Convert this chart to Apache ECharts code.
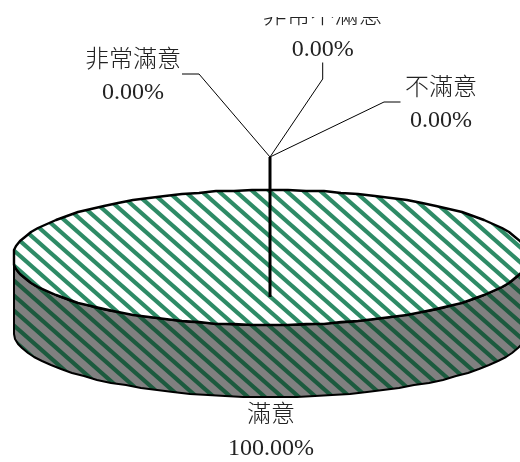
<!DOCTYPE html>
<html><head><meta charset="utf-8">
<style>html,body{margin:0;padding:0;background:#fff}#c{width:520px;height:462px}</style>
<script src="https://cdn.jsdelivr.net/npm/echarts@6/dist/echarts.min.js"></script>
</head><body><div id="c"></div>
<script>
const categories = ['滿意', '不滿意', '非常不滿意', '非常滿意'];
const values = [100, 0, 0, 0];
const total = values.reduce((a, b) => a + b, 0);

// Layout only (not data)
const pie = {cx: 270, cy: 257.5, rx: 258, ry: 67.5, depth: 72, leftClip: 14};
const hub = [270, 157];
const labelCentre = [[271, 416], [441, 89], [322.5, 17], [133, 61]];
const valueCentre = [[271, 449], [441, 120.5], [322.7, 50], [133, 92.5]];
const leaders = [
  [[270, 297], hub],
  [hub, [384, 102], [400.5, 102]],
  [hub, [322.7, 79], [322.7, 62.5]],
  [hub, [199, 74], [182, 74]]
];
const FONT = '"Liberation Serif", "Noto Sans CJK TC", serif';
const TILE_W = 17, TILE_H = 15, PHASE = 2;

function stripes(bg, fg) {
  const c = document.createElement('canvas');
  c.width = TILE_W; c.height = TILE_H;
  const g = c.getContext('2d');
  g.fillStyle = bg; g.fillRect(0, 0, TILE_W, TILE_H);
  g.strokeStyle = fg; g.lineWidth = 4.2;
  for (let k = -2; k <= 2; k++) {
    const o = k * TILE_W + PHASE;
    g.beginPath(); g.moveTo(o - TILE_W, -TILE_H); g.lineTo(o + 2 * TILE_W, 2 * TILE_H); g.stroke();
  }
  return c;
}
const topFill = {image: stripes('#ffffff', '#2e8b66'), repeat: 'repeat'};
const wallFill = {image: stripes('#808080', '#1c5a3e'), repeat: 'repeat'};

function rim(t, dy) {
  const x = Math.max(pie.leftClip, pie.cx + pie.rx * Math.cos(t));
  return [Math.round(x), Math.round(pie.cy + pie.ry * Math.sin(t)) + dy];
}
function arc(a0, a1, dy) {
  const n = Math.max(1, Math.ceil(Math.abs(a1 - a0) / (Math.PI * 2) * 90));
  const pts = [];
  for (let i = 0; i <= n; i++) pts.push(rim(a0 + (a1 - a0) * i / n, dy));
  return pts;
}

function renderItem(params, api) {
  const idx = params.dataIndex;
  const val = api.value(1);
  const frac = val / total;
  let startFrac = 0;
  for (let i = 0; i < idx; i++) startFrac += values[i] / total;
  const a0 = Math.PI / 2 - startFrac * Math.PI * 2;
  const a1 = a0 - frac * Math.PI * 2;
  const children = [];
  if (frac > 0) {
    const full = frac >= 1;
    const top = arc(a0, a1, 0);
    // visible wall: front half of the rim only
    const front = arc(Math.PI, 0, 0);
    const wall = front.concat(front.slice().reverse().map(p => [p[0], p[1] + pie.depth]));
    children.push({type: 'polygon', shape: {points: wall},
      style: {fill: wallFill, stroke: '#000', lineWidth: 2, lineJoin: 'round'}});
    children.push({type: 'polygon', shape: {points: full ? top : top.concat([[pie.cx, pie.cy]])},
      style: {fill: topFill, stroke: '#000', lineWidth: 2.4, lineJoin: 'round'}});
  }
  const thick = idx === 0;
  children.push({type: 'polyline', z2: 5, shape: {points: leaders[idx]},
    style: {fill: null, stroke: '#000', lineWidth: thick ? 3 : 1}});
  const clip = idx === 2 ? {clipPath: {type: 'rect', shape: {x: 0, y: 17, width: 520, height: 445}}} : {};
  children.push(Object.assign({type: 'text', z2: 6, style: {
    text: categories[idx], x: labelCentre[idx][0], y: labelCentre[idx][1],
    align: 'center', verticalAlign: 'middle', fontFamily: FONT, fontSize: 24, fontWeight: 300, fill: '#222'
  }}, clip));
  children.push({type: 'text', z2: 6, style: {
    text: (val / total * 100).toFixed(2) + '%', x: valueCentre[idx][0], y: valueCentre[idx][1],
    align: 'center', verticalAlign: 'middle', fontFamily: FONT, fontSize: 24, fill: '#222'
  }});
  return {type: 'group', children};
}

const chart = echarts.init(document.getElementById('c'), null, {renderer: 'canvas'});
chart.setOption({
  animation: false,
  backgroundColor: '#fff',
  series: [{
    type: 'custom',
    coordinateSystem: 'none',
    renderItem,
    clip: false,
    silent: true,
    data: categories.map((c, i) => ({name: c, value: [i, values[i]]}))
  }]
});
</script></body></html>
